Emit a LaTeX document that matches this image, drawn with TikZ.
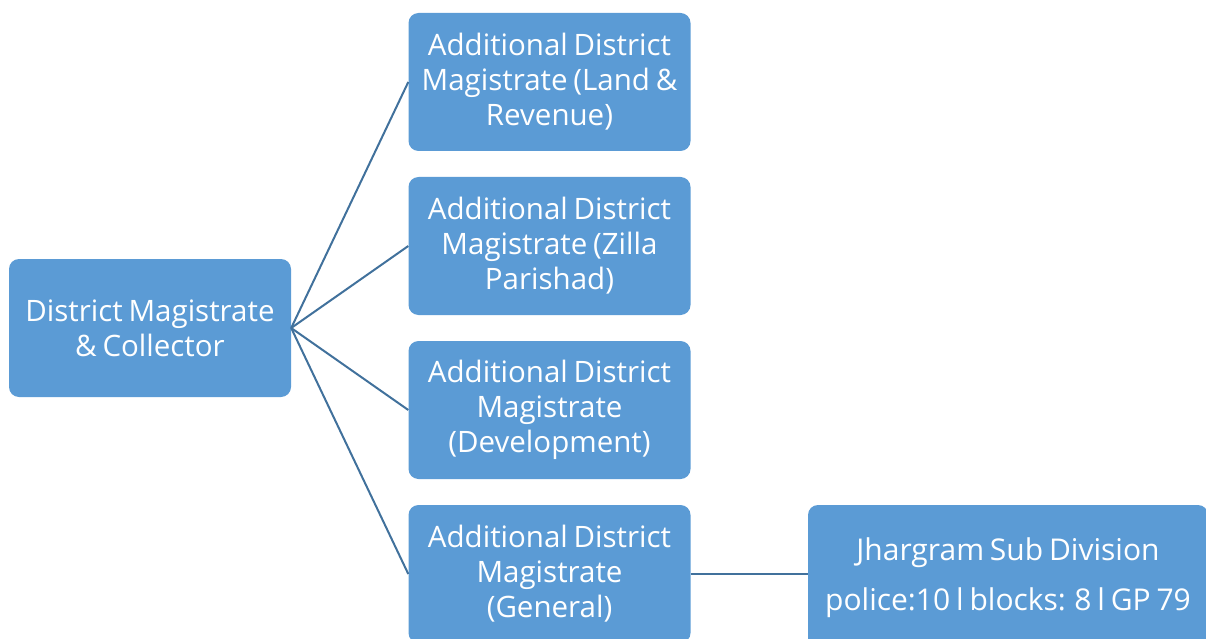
\documentclass[tikz,border=0pt]{standalone}
\usepackage{fontspec}
\setmainfont[WordSpace=0.75]{Open Sans}
\definecolor{boxblue}{HTML}{5B9BD5}
\definecolor{linkblue}{HTML}{41719C}
\begin{document}
\begin{tikzpicture}[x=1pt,y=-1pt,
  box/.style={rectangle, rounded corners=10pt, fill=boxblue, draw=none,
    minimum width=282pt, minimum height=138pt, text=white, align=center,
    font=\fontsize{29.5}{35}\selectfont, inner sep=0pt},
  link/.style={draw=linkblue, line width=2pt}]
\useasboundingbox (0,0) rectangle (1206,639);
\clip (0,0) rectangle (1206,639);
\node[box] (dm) at (150,328) {District Magistrate\\\& Collector};
\node[box] (a1) at (549.5,82) {Additional District\\Magistrate (Land \&\\Revenue)};
\node[box] (a2) at (549.5,246) {Additional District\\Magistrate (Zilla\\Parishad)};
\node[box] (a3) at (549.5,410) {Additional District\\Magistrate\\(Development)};
\node[box] (a4) at (549.5,574) {Additional District\\Magistrate\\(General)};
\node[box, minimum width=400pt, minimum height=146pt, font=\fontsize{30}{50}\selectfont] (jh) at (1008,578) {Jhargram Sub Division\\police:10 l blocks: 8 l GP 79};
\draw[link] (dm.east) -- (a1.west);
\draw[link] (dm.east) -- (a2.west);
\draw[link] (dm.east) -- (a3.west);
\draw[link] (dm.east) -- (a4.west);
\draw[link] (a4.east) -- (a4.east -| jh.west);
\end{tikzpicture}
\end{document}
